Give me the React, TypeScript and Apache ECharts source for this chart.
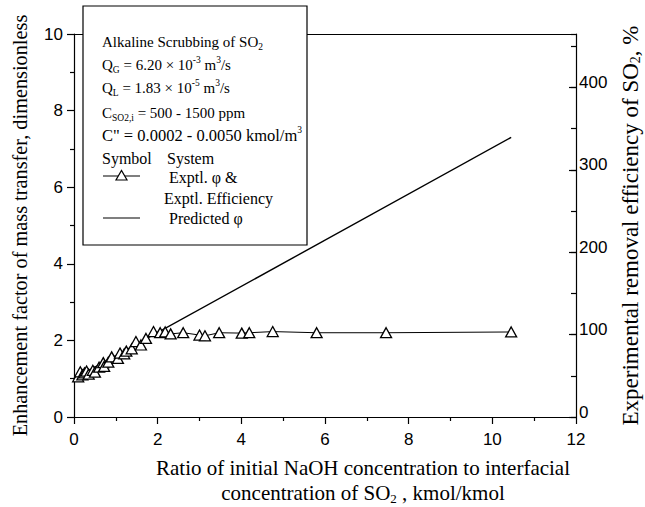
import React, { useEffect, useRef } from "react";
import * as echarts from "echarts";

const expX = [0.10, 0.15, 0.20, 0.25, 0.30, 0.35, 0.45, 0.50, 0.60, 0.70, 0.72, 0.82, 0.90, 1.05, 1.10, 1.20, 1.25, 1.38, 1.48, 1.60, 1.72, 1.90, 2.06, 2.18, 2.31, 2.61, 3.00, 3.13, 3.47, 4.01, 4.19, 4.75, 5.80, 7.46, 10.45];
const expY = [1.05, 1.18, 1.10, 1.15, 1.20, 1.12, 1.22, 1.17, 1.30, 1.42, 1.32, 1.43, 1.57, 1.53, 1.67, 1.65, 1.72, 1.78, 1.97, 1.88, 2.05, 2.23, 2.20, 2.22, 2.17, 2.20, 2.14, 2.12, 2.20, 2.19, 2.20, 2.23, 2.20, 2.20, 2.22];
const predX = [0, 10.45];
const predY = [1.0, 7.3];

const xTicks = { min: 0, max: 12, interval: 2 };
const yTicks = { min: 0, max: 10, interval: 2 };
const y2Ticks = { min: 0, max: 465, interval: 100, minorInterval: 50 };

const SERIF = "Liberation Serif";
const SANS = "Liberation Sans";

export default function App() {
  const ref = useRef<HTMLDivElement>(null);
  useEffect(() => {
    document.body.style.margin = "0";
    const chart = echarts.init(ref.current!, null, { renderer: "svg" });
    const black = "#000";
    const mkRich = (fs: number) => ({
      n: { fontFamily: SERIF, fontSize: fs, lineHeight: 20, color: black },
      sub: { fontFamily: SERIF, fontSize: 9.5, lineHeight: 10, verticalAlign: "bottom", color: black },
      sup: { fontFamily: SERIF, fontSize: 9.5, lineHeight: 10, verticalAlign: "top", color: black },
    });
    const legText = (x: number, y: number, text: string, fs = 15) => ({
      type: "text",
      x,
      y,
      z: 101,
      style: { text, rich: mkRich(fs), verticalAlign: "middle", align: "left", fill: black },
    });
    const xNameRich = {
      a: { fontFamily: SERIF, fontSize: 21, lineHeight: 25, color: black },
      s: { fontFamily: SERIF, fontSize: 13, lineHeight: 13, verticalAlign: "bottom", color: black },
    };
    const y2NameRich = {
      a: { fontFamily: SERIF, fontSize: 23, lineHeight: 23, color: black },
      s: { fontFamily: SERIF, fontSize: 14, lineHeight: 12, verticalAlign: "bottom", color: black },
    };
    const axisLine = { show: true, onZero: false, lineStyle: { color: black, width: 1.2 } };
    const tickStyle = { color: black, width: 1.2 };
    const labelStyle = { fontFamily: SANS, fontSize: 17, color: black };
    const option: any = {
      animation: false,
      grid: { left: 74, right: 69, top: 34, bottom: 90, containLabel: false, outerBoundsMode: "none" },
      xAxis: [
        {
          type: "value",
          position: "bottom",
          min: xTicks.min,
          max: xTicks.max,
          interval: xTicks.interval,
          axisLine,
          axisTick: { length: 7, lineStyle: tickStyle },
          minorTick: { show: true, splitNumber: 2, length: 4, lineStyle: tickStyle },
          splitLine: { show: false },
          axisLabel: { ...labelStyle, margin: 14 },
          name: "{a|Ratio of initial NaOH concentration to interfacial}\n{a|concentration of SO}{s|2}{a| , kmol/kmol}",
          nameLocation: "middle",
          nameGap: 38,
          nameTextStyle: { rich: xNameRich, padding: [0, 0, 0, 76] },
        },
        {
          type: "value",
          position: "top",
          min: xTicks.min,
          max: xTicks.max,
          axisLine,
          axisTick: { show: false },
          axisLabel: { show: false },
          splitLine: { show: false },
        },
      ],
      yAxis: [
        {
          type: "value",
          position: "left",
          min: yTicks.min,
          max: yTicks.max,
          interval: yTicks.interval,
          axisLine,
          axisTick: { show: true, length: 7, lineStyle: tickStyle },
          minorTick: { show: true, splitNumber: 2, length: 4, lineStyle: tickStyle },
          splitLine: { show: false },
          axisLabel: { ...labelStyle, margin: 11 },
          name: "Enhancement factor of mass transfer, dimensionless",
          nameLocation: "middle",
          nameRotate: 90,
          nameGap: 44,
          nameTextStyle: { fontFamily: SERIF, fontSize: 20.3, color: black },
        },
        {
          type: "value",
          position: "right",
          min: y2Ticks.min,
          max: y2Ticks.max,
          interval: y2Ticks.interval,
          axisLine,
          axisTick: { show: true, inside: true, length: 7, lineStyle: tickStyle },
          splitLine: { show: false },
          axisLabel: { ...labelStyle, margin: 3, showMaxLabel: false, verticalAlign: "bottom", lineHeight: 10 },
          name: "{a|Experimental removal efficiency of SO}{s|2}{a|, %}",
          nameLocation: "middle",
          nameRotate: 90,
          nameGap: 43,
          nameTextStyle: { rich: y2NameRich },
        },
        {
          type: "value",
          position: "right",
          min: y2Ticks.min,
          max: y2Ticks.max,
          interval: y2Ticks.minorInterval,
          axisLine: { show: false, onZero: false },
          axisTick: { show: true, inside: true, length: 5, lineStyle: tickStyle },
          splitLine: { show: false },
          axisLabel: { show: false },
        },
      ],
      series: [
        {
          name: "Predicted",
          type: "line",
          xAxisIndex: 0,
          yAxisIndex: 0,
          data: predX.map((x, i) => [x, predY[i]]),
          symbol: "none",
          lineStyle: { color: black, width: 1.4 },
          z: 2,
        },
        {
          name: "Exptl",
          type: "line",
          xAxisIndex: 0,
          yAxisIndex: 0,
          data: expX.map((x, i) => [x, expY[i]]),
          symbol: "triangle",
          symbolSize: [11, 10],
          itemStyle: { color: "#fff", borderColor: black, borderWidth: 1.3 },
          lineStyle: { color: black, width: 1 },
          z: 3,
        },
      ],
      graphic: [
        {
          type: "rect",
          z: 100,
          shape: { x: 83, y: 6, width: 224, height: 239 },
          style: { fill: "#fff", stroke: black, lineWidth: 1.2 },
        },
        legText(102, 42, "{n|Alkaline Scrubbing of SO}{sub|2}"),
        legText(102, 65, "{n|Q}{sub|G}{n| = 6.20 × 10}{sup|-3}{n| m}{sup|3}{n|/s}"),
        legText(102, 88, "{n|Q}{sub|L}{n| = 1.83 × 10}{sup|-5}{n| m}{sup|3}{n|/s}"),
        legText(102, 113, "{n|C}{sub|SO2,i}{n| = 500 - 1500 ppm}"),
        legText(102, 135, "{n|C\" = 0.0002 - 0.0050 kmol/m}{sup|3}", 16.5),
        legText(102, 158, "{n|Symbol}", 16),
        legText(167, 158, "{n|System}", 16),
        legText(169, 177, "{n|Exptl. φ &}", 16),
        legText(164, 198, "{n|Exptl. Efficiency}", 16),
        legText(169, 218, "{n|Predicted φ}", 16),
        {
          type: "line",
          z: 101,
          shape: { x1: 103, y1: 176, x2: 140, y2: 176 },
          style: { stroke: black, lineWidth: 1.2 },
        },
        {
          type: "polygon",
          z: 102,
          shape: { points: [[116, 180], [127, 180], [121.5, 170.5]] },
          style: { fill: "#fff", stroke: black, lineWidth: 1.2 },
        },
        {
          type: "line",
          z: 101,
          shape: { x1: 103, y1: 218, x2: 140, y2: 218 },
          style: { stroke: black, lineWidth: 1.2 },
        },
      ],
    };
    chart.setOption(option);
    return () => chart.dispose();
  }, []);
  return <div ref={ref} style={{ width: 645, height: 507 }} />;
}
